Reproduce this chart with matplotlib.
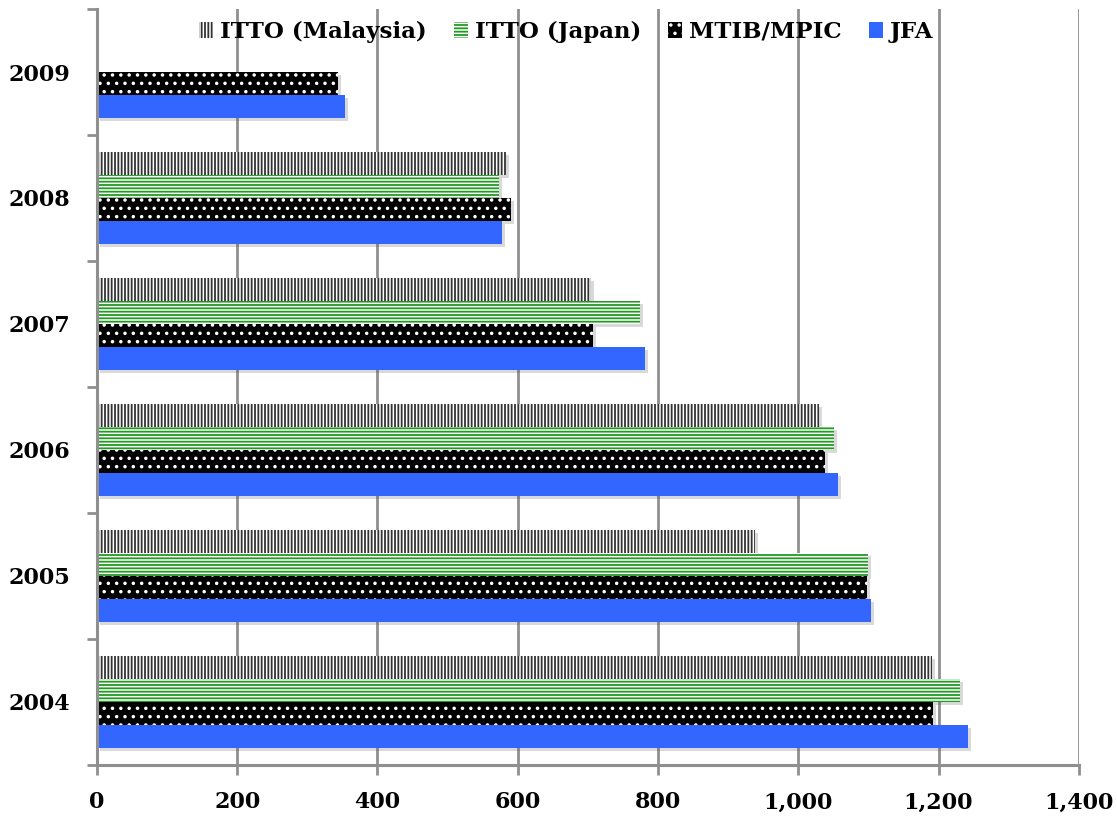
import numpy as np
import matplotlib.pyplot as plt
from matplotlib.transforms import offset_copy
from matplotlib.ticker import FuncFormatter, FixedLocator

# Datos por año (2009 sólo tiene MTIB/MPIC y JFA)
anios = ["2004", "2005", "2006", "2007", "2008", "2009"]
itto_malasia = [1191, 938, 1030, 704, 583, np.nan]
itto_japon = [1230, 1099, 1051, 775, 573, np.nan]
mtib_mpic = [1192, 1098, 1038, 707, 590, 344]
jfa = [1242, 1104, 1057, 781, 577, 354]

series = [
    ("ITTO (Malaysia)", itto_malasia, dict(facecolor="white", edgecolor="#333333", hatch="|||||")),
    ("ITTO (Japan)", itto_japon, dict(facecolor="white", edgecolor="#229922", hatch="-----")),
    ("MTIB/MPIC", mtib_mpic, dict(facecolor="black", edgecolor="white", hatch="..")),
    ("JFA", jfa, dict(facecolor="#3366ff", edgecolor="#3366ff", hatch=None)),
]

plt.rcParams["font.family"] = ["DejaVu Serif"]
plt.rcParams["font.weight"] = "bold"
plt.rcParams["hatch.linewidth"] = 1.3

gris = "#8f8f8f"
fig = plt.figure(figsize=(11.17, 8.19), dpi=100)
ax = fig.add_axes([0.0868, 0.066, 0.879, 0.923])

y = np.arange(len(anios))
alto = 0.183
# sombra desplazada unos píxeles abajo a la derecha
tr_sombra = offset_copy(ax.transData, fig=fig, x=3, y=-3, units="dots")
for i, (nombre, valores, estilo) in enumerate(series):
    desplaz = (1.5 - i) * alto
    sombras = ax.barh(y + desplaz, valores, height=alto, color="#555555", alpha=0.22,
                      linewidth=0, zorder=2)
    for s in sombras:
        s.set_transform(tr_sombra)
    ax.barh(y + desplaz, valores, height=alto, linewidth=0, label=nombre, zorder=3, **estilo)

ax.set_xlim(0, 1400)
ax.set_ylim(-0.5, len(anios) - 0.5)
ax.set_xticks(np.arange(0, 1401, 200))
ax.xaxis.set_major_formatter(FuncFormatter(lambda v, p: f"{int(v):,}"))
ax.set_yticks(y)
ax.set_yticklabels(anios)
ax.yaxis.set_minor_locator(FixedLocator(np.arange(-0.5, len(anios), 1.0)))

ax.grid(axis="x", color=gris, linewidth=2, zorder=0)
ax.set_axisbelow(True)
for lado in ["top", "right"]:
    ax.spines[lado].set_visible(False)
for lado in ["left", "bottom"]:
    ax.spines[lado].set_color(gris)
    ax.spines[lado].set_linewidth(2.2)
    ax.spines[lado].set_zorder(4)

ax.tick_params(axis="x", direction="out", length=7, width=2, color=gris, pad=12, labelsize=16)
ax.tick_params(axis="y", which="major", length=0, pad=19, labelsize=16)
ax.tick_params(axis="y", which="minor", direction="out", length=7, width=2, color=gris)

ax.legend(loc="upper center", bbox_to_anchor=(0.478, 1.012), ncol=4, frameon=False,
          fontsize=16.5, handlelength=0.6, handleheight=0.7, handletextpad=0.3,
          columnspacing=1.2)

fig.savefig("out.png", dpi=100)
